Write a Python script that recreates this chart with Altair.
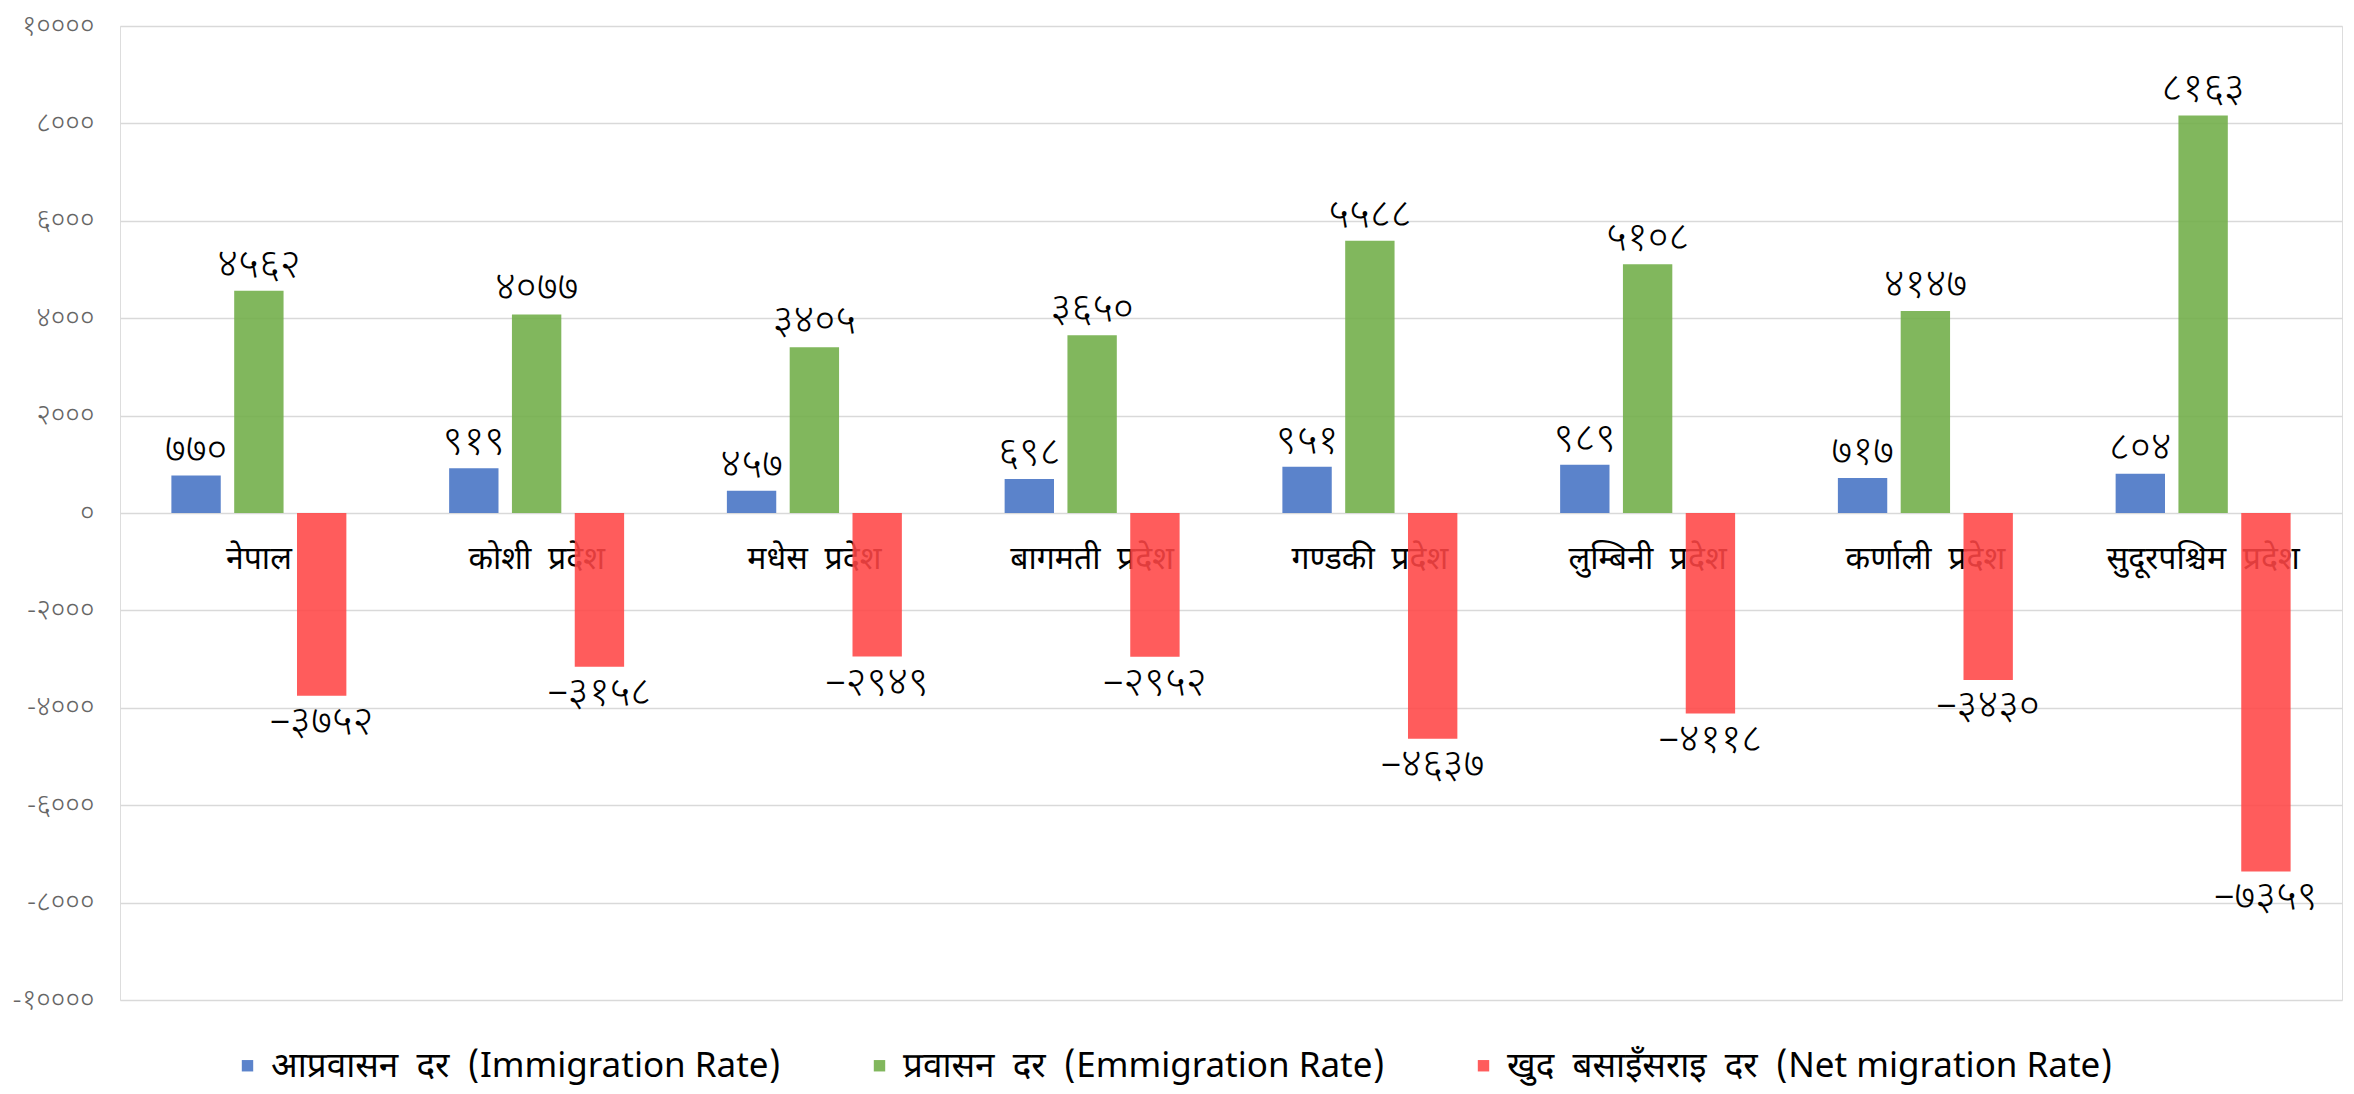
import altair as alt
import pandas as pd

NB = "\u00a0"
provinces = ["नेपाल", "कोशी" + NB + " प्रदेश", "मधेस" + NB + " प्रदेश", "बागमती" + NB + " प्रदेश",
             "गण्डकी" + NB + " प्रदेश", "लुम्बिनी" + NB + " प्रदेश", "कर्णाली" + NB + " प्रदेश",
             "सुदूरपश्चिम" + NB + " प्रदेश"]
series = ["आप्रवासन" + NB + " दर" + NB + " (Immigration Rate)",
          "प्रवासन" + NB + " दर" + NB + " (Emmigration Rate)",
          "खुद" + NB + " बसाइँसराइ" + NB + " दर" + NB + " (Net migration Rate)"]
immigration = [770, 919, 457, 698, 951, 989, 717, 804]
emigration = [4562, 4077, 3405, 3650, 5588, 5108, 4147, 8163]
net_migration = [-3752, -3158, -2949, -2952, -4637, -4118, -3430, -7359]
y_ticks = [-10000, -8000, -6000, -4000, -2000, 0, 2000, 4000, 6000, 8000, 10000]
colors = ["#4472C4", "#70AD47", "#FF4646"]

DIGITS = "०१२३४५६७८९"


def deva(n, minus="-"):
    s = str(n).replace("-", minus)
    return "".join(DIGITS[int(c)] if c.isdigit() else c for c in s)


rows = []
for s, vals in zip(series, [immigration, emigration, net_migration]):
    for p, v in zip(provinces, vals):
        rows.append({"province": p, "series": s, "value": v, "label": deva(v, "–")})
df = pd.DataFrame(rows)
cat_df = pd.DataFrame({"province": provinces, "zero": [0] * len(provinces)})

expr = "''"
for t in reversed(y_ticks):
    expr = f"datum.value == {t} ? '{deva(t)}' : ({expr})"

FONT = "Noto Sans Devanagari, Noto Sans, sans-serif"

x_enc = alt.X("province:N", sort=provinces, axis=None,
              scale=alt.Scale(paddingInner=0.37, paddingOuter=0.185))
y_scale = alt.Scale(domain=[-10000, 10000], nice=False, zero=True)
xoff = alt.XOffset("series:N", sort=series,
                   scale=alt.Scale(paddingInner=0.214, paddingOuter=0))

cat_text = alt.Chart(cat_df).mark_text(
    font=FONT, fontSize=32, fontWeight=400, color="#000000", baseline="middle", dy=46
).encode(
    x=x_enc,
    y=alt.Y("zero:Q", scale=y_scale),
    text="province:N",
)

bars = alt.Chart(df).mark_bar(opacity=0.88).encode(
    x=x_enc,
    xOffset=xoff,
    y=alt.Y("value:Q", scale=y_scale,
            axis=alt.Axis(values=y_ticks, title=None, domain=False, ticks=False,
                          labelExpr=expr, labelFont=FONT, labelFontSize=28,
                          labelFontWeight=300,
                          labelColor="#666666", labelPadding=26,
                          gridColor="#D9D9D9", gridWidth=1.5)),
    color=alt.Color("series:N", sort=series,
                    scale=alt.Scale(domain=series, range=colors),
                    legend=alt.Legend(title=None, orient="none", direction="horizontal",
                                      legendX=110, legendY=1022,
                                      symbolType="square", symbolSize=130,
                                      symbolStrokeWidth=0,
                                      labelFont=FONT, labelFontSize=35,
                                      labelFontWeight=400,
                                      labelColor="#000000", columnPadding=81,
                                      labelOffset=6, padding=0, labelLimit=0)),
)

pos_labels = alt.Chart(df).transform_filter("datum.value >= 0").mark_text(
    font=FONT, fontSize=40, fontWeight=300, color="#000000", baseline="bottom", dy=-6
).encode(
    x=x_enc,
    xOffset=xoff,
    y=alt.Y("value:Q", scale=y_scale),
    text="label:N",
)

neg_labels = alt.Chart(df).transform_filter("datum.value < 0").mark_text(
    font=FONT, fontSize=40, fontWeight=300, color="#000000", baseline="top", dy=6
).encode(
    x=x_enc,
    xOffset=xoff,
    y=alt.Y("value:Q", scale=y_scale),
    text="label:N",
)

chart = alt.layer(cat_text, bars, pos_labels, neg_labels).properties(
    width=2222, height=974,
    autosize=alt.AutoSizeParams(type="none"),
    padding={"left": 112, "top": 18, "right": 4, "bottom": 94},
).configure_view(stroke=None).configure(background="white")

chart.save("out.html", embed_options={"renderer": "svg", "actions": False})
